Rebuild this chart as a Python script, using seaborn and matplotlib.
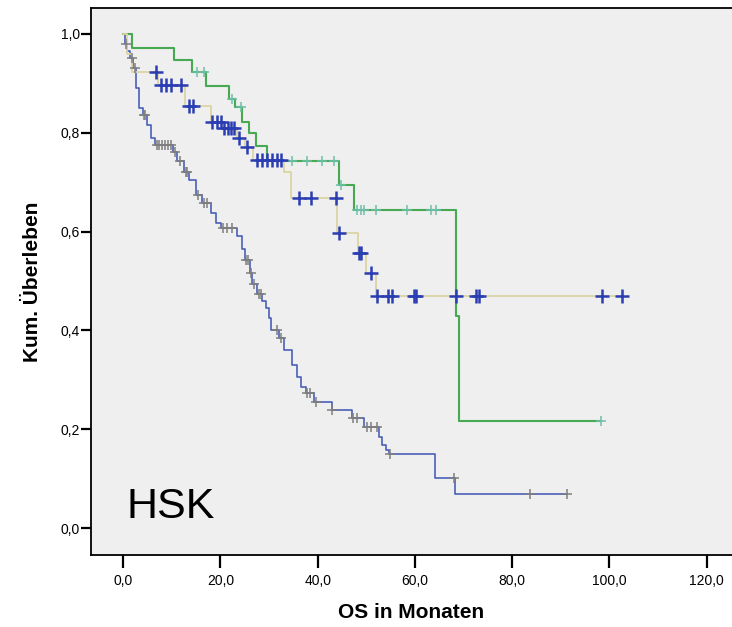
import numpy as np
import pandas as pd
import matplotlib
matplotlib.use('Agg')
import matplotlib.pyplot as plt
import seaborn as sns

# Kaplan-Meier step data (months, cumulative survival)
blue_t = [0.0, 0.3, 0.8, 1.5, 2.0, 2.6, 3.3, 4.0, 4.9, 5.8, 6.6, 10.3, 11.1, 12.5, 13.6,
          15.0, 16.3, 18.1, 19.1, 20.1, 23.4, 24.4, 25.0, 26.0, 26.6, 27.6, 28.5, 29.4,
          30.0, 30.4, 32.0, 33.1, 34.8, 35.8, 36.6, 37.6, 39.3, 43.0, 47.1, 49.6, 52.6,
          53.3, 54.0, 54.6, 64.1, 68.2]
blue_s = [1.0, 0.98, 0.965, 0.95, 0.93, 0.89, 0.85, 0.835, 0.815, 0.79, 0.775, 0.76, 0.742,
          0.72, 0.705, 0.674, 0.657, 0.637, 0.617, 0.607, 0.59, 0.564, 0.543, 0.517, 0.493,
          0.473, 0.46, 0.446, 0.425, 0.40, 0.385, 0.36, 0.33, 0.306, 0.286, 0.274, 0.256,
          0.24, 0.223, 0.205, 0.185, 0.169, 0.159, 0.151, 0.102, 0.069]
blue_end = 91.3
blue_cens = [0.6, 1.8, 2.4, 4.2, 4.5, 6.9, 7.4, 8.0, 8.6, 9.2, 9.8, 10.6, 11.6, 12.9, 13.2,
             15.5, 16.6, 17.2, 20.5, 21.3, 22.3, 25.2, 25.7, 26.3, 27.0, 27.9, 28.3, 31.6,
             32.4, 37.8, 38.4, 39.6, 43.0, 47.2, 48.0, 50.2, 51.0, 52.2, 54.9, 68.0, 83.6, 91.3]

green_t = [0.0, 1.9, 10.5, 14.2, 17.0, 21.8, 23.0, 24.5, 25.8, 27.3, 29.5, 44.4, 47.5, 68.4, 69.0]
green_s = [1.0, 0.972, 0.947, 0.923, 0.895, 0.868, 0.852, 0.822, 0.80, 0.772, 0.742, 0.695,
           0.644, 0.43, 0.216]
green_end = 98.3
green_cens = [15.2, 16.6, 22.4, 24.3, 34.7, 37.8, 40.9, 43.4, 44.8, 48.1, 48.9, 49.5, 52.0,
              58.4, 63.3, 64.3, 98.3]

tan_t = [0.0, 0.8, 1.8, 7.2, 12.7, 18.0, 20.4, 23.4, 25.0, 26.8, 33.0, 34.6, 44.0, 48.2,
         50.0, 52.0]
tan_s = [1.0, 0.96, 0.923, 0.897, 0.853, 0.822, 0.81, 0.79, 0.77, 0.745, 0.721, 0.667,
         0.598, 0.557, 0.517, 0.469]
tan_end = 102.6
tan_cens = [6.8, 7.8, 8.8, 9.9, 11.9, 13.6, 14.3, 18.3, 19.3, 20.1, 20.8, 21.5, 22.2, 22.8,
            23.8, 25.5, 27.6, 28.6, 29.6, 30.6, 31.7, 32.4, 36.2, 38.6, 43.8, 44.4, 48.5,
            48.9, 51.0, 52.3, 54.5, 55.3, 59.8, 60.2, 68.4, 72.6, 73.2, 98.5, 102.6]

x_ticks = [0, 20, 40, 60, 80, 100, 120]
y_ticks = [0.0, 0.2, 0.4, 0.6, 0.8, 1.0]


def curve_frame(times, surv, t_end):
    return pd.DataFrame({'t': list(times) + [t_end], 's': list(surv) + [surv[-1]]})


def cens_frame(times, surv, cens):
    idx = np.searchsorted(times, cens, side='right') - 1
    return pd.DataFrame({'t': cens, 's': np.array(surv)[idx]})


sns.set_theme(style='ticks')
plt.rcParams['font.family'] = ['Liberation Sans', 'DejaVu Sans']

fig = plt.figure(figsize=(7.32, 6.27), dpi=100)
ax = fig.add_axes([91 / 732, 1 - 555 / 627, 641 / 732, 547 / 627])
ax.set_facecolor('#efefef')

# poor group
sns.lineplot(data=curve_frame(blue_t, blue_s, blue_end), x='t', y='s', drawstyle='steps-post',
             estimator=None, sort=False, color='#4a5fb8', lw=1.2, ax=ax)
sns.scatterplot(data=cens_frame(blue_t, blue_s, blue_cens), x='t', y='s', marker='+',
                s=60, color='#7e7e7e', linewidth=1.1, ax=ax, zorder=3)

# green group
sns.lineplot(data=curve_frame(green_t, green_s, green_end), x='t', y='s', drawstyle='steps-post',
             estimator=None, sort=False, color='#47a951', lw=1.5, ax=ax)
sns.scatterplot(data=cens_frame(green_t, green_s, green_cens), x='t', y='s', marker='+',
                s=60, color='#6cbfa6', linewidth=1.1, ax=ax, zorder=3)

# tan group
sns.lineplot(data=curve_frame(tan_t, tan_s, tan_end), x='t', y='s', drawstyle='steps-post',
             estimator=None, sort=False, color='#ddd4a4', lw=1.3, ax=ax)
sns.scatterplot(data=cens_frame(tan_t, tan_s, tan_cens), x='t', y='s', marker='+',
                s=110, color='#2b3db3', linewidth=1.8, ax=ax, zorder=4)

ax.set_xlim(-6.6, 125.2)
ax.set_ylim(-0.054, 1.052)
ax.set_xticks(x_ticks)
ax.set_xticklabels([f'{v:.1f}'.replace('.', ',') for v in x_ticks])
ax.set_yticks(y_ticks)
ax.set_yticklabels([f'{v:.1f}'.replace('.', ',') for v in y_ticks])
ax.tick_params(axis='x', direction='out', length=9, width=1.6, pad=5, labelsize=10,
               colors='black')
ax.tick_params(axis='y', direction='out', length=7, width=1.6, pad=1, labelsize=10,
               colors='black')
for sp in ax.spines.values():
    sp.set_visible(True)
    sp.set_color('black')
    sp.set_linewidth(1.3)
ax.spines['right'].set_visible(False)

ax.set_xlabel('OS in Monaten', fontsize=15, fontweight='bold', color='black')
ax.set_ylabel('Kum. Überleben', fontsize=15, fontweight='bold', color='black')
ax.xaxis.set_label_coords(0.5, -0.088)
ax.yaxis.set_label_coords(-0.077, 0.5)

ax.text(0.6, 0.02, 'HSK', fontsize=31, ha='left', va='baseline', color='black')

fig.savefig('out.png', dpi=100)
